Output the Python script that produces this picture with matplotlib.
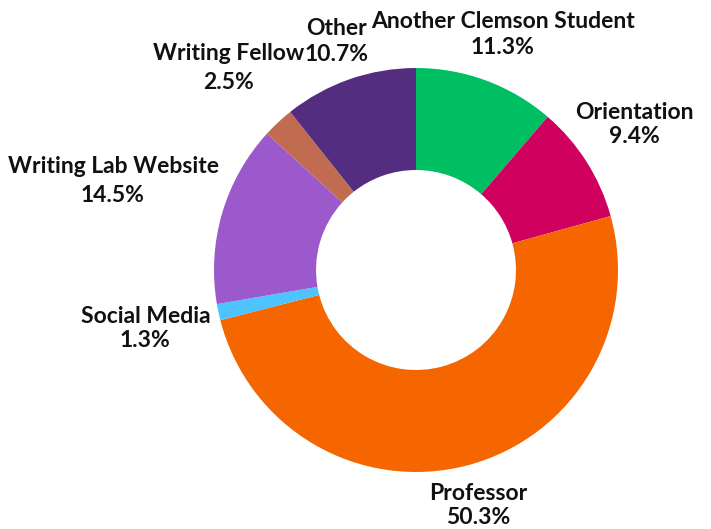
import matplotlib.pyplot as plt

# Data
labels = ["Another Clemson Student", "Orientation", "Professor", "Social Media",
          "Writing Lab Website", "Writing Fellow", "Other"]
shares = [11.3, 9.4, 50.3, 1.3, 14.5, 2.5, 10.7]
colors = ["#00bf63", "#cf005e", "#f56600", "#4dc3ff", "#9b59cc", "#c16c50", "#542d80"]

# label centres (data units, radius = 1)
label_pos = [(0.43, 1.165), (1.08, 0.72), (0.31, -1.165), (-1.34, -0.29),
             (-1.50, 0.44), (-0.93, 1.0), (-0.395, 1.13)]
spacing = [1.3, 1.2, 1.2, 1.2, 1.45, 1.45, 1.3]

fig = plt.figure(figsize=(7.11, 5.29), dpi=100)
fig.patch.set_facecolor("white")

# pie centre at (416, 270) px, radius 202 px
R = 202
ax = fig.add_axes([(416 - R) / 711, (529 - 270 - R) / 529, 2 * R / 711, 2 * R / 529])
ax.pie(
    shares,
    colors=colors,
    startangle=90,
    counterclock=False,
    radius=1,
    wedgeprops=dict(width=0.505, linewidth=0),
)
ax.set_xlim(-1, 1)
ax.set_ylim(-1, 1)
ax.axis("off")

for name, val, (x, y), ls in zip(labels, shares, label_pos, spacing):
    ax.text(x, y, f"{name}\n{val}%", ha="center", va="center",
            fontsize=16.5, fontweight="bold", family="Lato",
            linespacing=ls, color="#111111", clip_on=False)

plt.savefig("out.png", dpi=100, facecolor="white")
